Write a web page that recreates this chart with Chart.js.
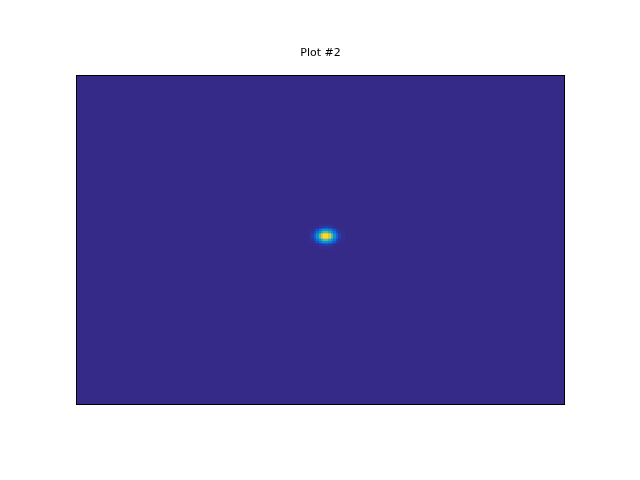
<!DOCTYPE html>
<html>
<head>
<meta charset="utf-8">
<script src="https://cdn.jsdelivr.net/npm/chart.js@4/dist/chart.umd.min.js"></script>
<style>
  html, body { margin: 0; padding: 0; background: #ffffff; }
  #wrap { width: 640px; height: 480px; }
</style>
</head>
<body>
<div id="wrap"><canvas id="c" width="640" height="480"></canvas></div>
<script>
// ---- Data ----
const titleText = "Plot #2";
// grid extent (data units)
const xRange = [0, 100];
const yRange = [0, 100];
// blob cell centres (half-unit cells)
const blobX = [48.0, 48.5, 49.0, 49.5, 50.0, 50.5, 51.0, 51.5, 52.0, 52.5, 53.0, 53.5, 54.0, 54.5];
const blobY = [45.75, 46.25, 46.75, 47.25, 47.75, 48.25, 48.75, 49.25, 49.75, 50.25, 50.75, 51.25, 51.75, 52.25];
const cellSize = 0.5;
// normalised intensities, rows follow blobY, columns follow blobX
const blobValues = [
  [0.00,0.00,0.00,0.00,0.01,0.01,0.01,0.01,0.01,0.01,0.00,0.00,0.00,0.00],
  [0.00,0.00,0.00,0.01,0.02,0.03,0.04,0.04,0.03,0.02,0.01,0.00,0.00,0.00],
  [0.00,0.00,0.01,0.03,0.06,0.09,0.12,0.12,0.09,0.06,0.03,0.01,0.00,0.00],
  [0.00,0.01,0.03,0.08,0.15,0.22,0.27,0.27,0.22,0.15,0.08,0.03,0.01,0.00],
  [0.01,0.02,0.06,0.15,0.27,0.41,0.50,0.50,0.41,0.27,0.15,0.06,0.02,0.01],
  [0.01,0.03,0.09,0.22,0.41,0.60,0.73,0.73,0.60,0.41,0.22,0.09,0.03,0.01],
  [0.01,0.04,0.12,0.27,0.50,0.73,0.86,0.86,0.73,0.50,0.27,0.12,0.04,0.01],
  [0.01,0.04,0.12,0.27,0.50,0.73,0.86,0.86,0.73,0.50,0.27,0.12,0.04,0.01],
  [0.01,0.03,0.09,0.22,0.41,0.60,0.73,0.73,0.60,0.41,0.22,0.09,0.03,0.01],
  [0.01,0.02,0.06,0.15,0.27,0.41,0.50,0.50,0.41,0.27,0.15,0.06,0.02,0.01],
  [0.00,0.01,0.03,0.08,0.15,0.22,0.27,0.27,0.22,0.15,0.08,0.03,0.01,0.00],
  [0.00,0.00,0.01,0.03,0.06,0.09,0.12,0.12,0.09,0.06,0.03,0.01,0.00,0.00],
  [0.00,0.00,0.00,0.01,0.02,0.03,0.04,0.04,0.03,0.02,0.01,0.00,0.00,0.00],
  [0.00,0.00,0.00,0.00,0.01,0.01,0.01,0.01,0.01,0.01,0.00,0.00,0.00,0.00]
];

// ---- Colour map (parula-like) ----
const parula = [
  [53,42,135],[15,92,221],[18,125,216],[7,156,207],[21,177,180],
  [89,189,140],[165,190,107],[225,185,82],[252,206,46],[245,231,27],[249,251,14]
];
function cmap(v) {
  v = Math.max(0, Math.min(1, v));
  const p = v * (parula.length - 1);
  const i = Math.min(parula.length - 2, Math.floor(p));
  const t = p - i;
  const a = parula[i], b = parula[i + 1];
  return 'rgb(' + [0,1,2].map(k => Math.round(a[k] + (b[k] - a[k]) * t)).join(',') + ')';
}

// build point table from arrays
const points = [];
blobY.forEach((yy, r) => blobX.forEach((xx, c) => points.push({x: xx, y: yy, v: blobValues[r][c]})));

const styleCache = {};
function cellStyle(ctx) {
  const chart = ctx.chart;
  const raw = ctx.raw;
  if (!raw || !chart.scales.x) return 'rect';
  const sx = chart.scales.x, sy = chart.scales.y;
  const w = Math.abs(sx.getPixelForValue(raw.x + cellSize / 2) - sx.getPixelForValue(raw.x - cellSize / 2));
  const h = Math.abs(sy.getPixelForValue(raw.y + cellSize / 2) - sy.getPixelForValue(raw.y - cellSize / 2));
  const col = cmap(raw.v);
  const W = Math.ceil(w) + 1, H = Math.ceil(h) + 1;
  const key = col + '|' + W + '|' + H;
  if (!styleCache[key]) {
    const cv = document.createElement('canvas');
    cv.width = W; cv.height = H;
    const g = cv.getContext('2d');
    g.fillStyle = col;
    g.fillRect(0, 0, W, H);
    styleCache[key] = cv;
  }
  return styleCache[key];
}

const frame = {
  id: 'frame',
  beforeDatasetsDraw(chart) {
    const a = chart.chartArea, c = chart.ctx;
    c.save();
    c.fillStyle = cmap(0);
    c.fillRect(a.left, a.top, a.right - a.left, a.bottom - a.top);
    c.restore();
  },
  afterDatasetsDraw(chart) {
    const a = chart.chartArea, c = chart.ctx;
    c.save();
    c.strokeStyle = '#000000';
    c.lineWidth = 1;
    c.strokeRect(a.left + 0.5, a.top + 0.5, a.right - a.left - 1, a.bottom - a.top - 1);
    c.restore();
  }
};

new Chart(document.getElementById('c'), {
  type: 'scatter',
  data: {
    datasets: [{
      data: points,
      pointStyle: cellStyle,
      pointRadius: 2,
      pointHoverRadius: 2,
      borderWidth: 0,
      backgroundColor: ctx => ctx.raw ? cmap(ctx.raw.v) : 'transparent'
    }]
  },
  options: {
    responsive: false,
    animation: false,
    events: [],
    layout: { padding: { left: 76, right: 75, top: 0, bottom: 75 } },
    scales: {
      x: { type: 'linear', min: xRange[0], max: xRange[1], display: false },
      y: { type: 'linear', min: yRange[0], max: yRange[1], reverse: true, display: false }
    },
    plugins: {
      legend: { display: false },
      tooltip: { enabled: false },
      title: {
        display: true,
        text: titleText,
        color: '#000000',
        font: { family: 'DejaVu Sans', size: 11, weight: 'normal', lineHeight: 1.2 },
        padding: { top: 46.5, bottom: 15.3 }
      }
    },
    clip: false
  },
  plugins: [frame]
});
</script>
</body>
</html>
